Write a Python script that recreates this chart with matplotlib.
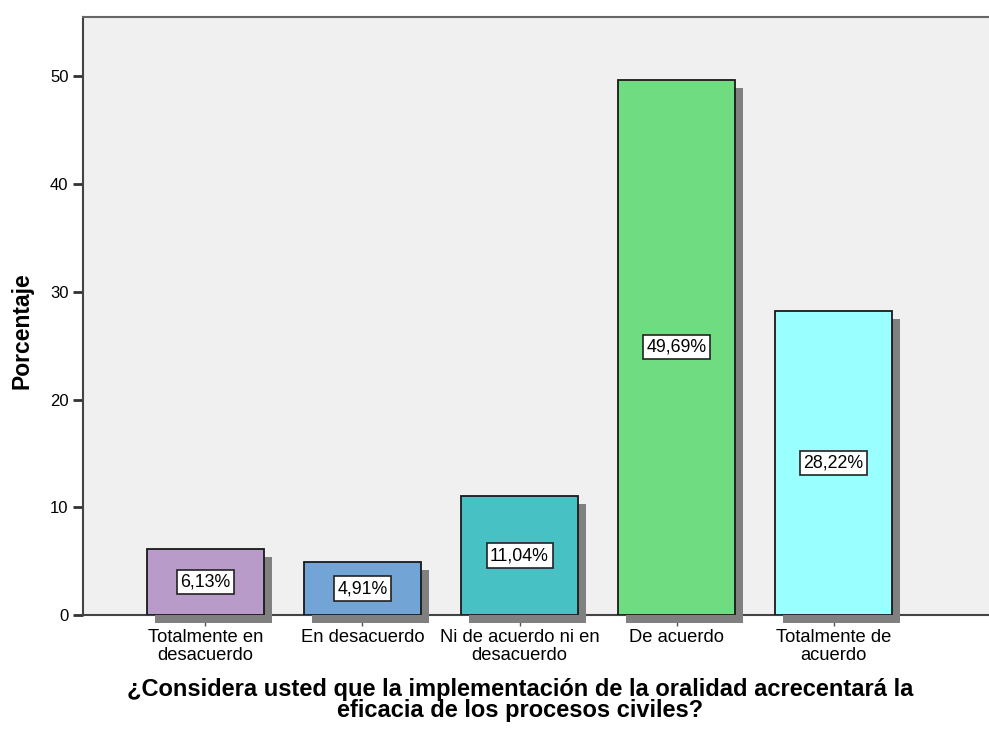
import matplotlib
matplotlib.use("Agg")
import matplotlib.pyplot as plt
import matplotlib.transforms as mtransforms

plt.rcParams['font.family'] = ['Liberation Sans', 'DejaVu Sans']

categories = ["Totalmente en\ndesacuerdo", "En desacuerdo", "Ni de acuerdo ni en\ndesacuerdo",
              "De acuerdo", "Totalmente de\nacuerdo"]
values = [6.13, 4.91, 11.04, 49.69, 28.22]
labels = ["6,13%", "4,91%", "11,04%", "49,69%", "28,22%"]
colors = ["#B89BC9", "#72A4D6", "#47C1C4", "#70DC82", "#99FFFF"]
yticks = [0, 10, 20, 30, 40, 50]

fig = plt.figure(figsize=(9.89, 7.31), dpi=100)
ax = fig.add_axes([83/989, 1-615/731, 1-83/989, (615-17)/731])
ax.set_facecolor("#F0F0F0")

x = list(range(len(values)))
width = 0.75

shadow_tr = ax.transData + mtransforms.ScaledTranslation(8/100, -8/100, fig.dpi_scale_trans)
sh = ax.bar(x, values, width=width, color="#808080", linewidth=0, zorder=3)
for p in sh:
    p.set_transform(shadow_tr)
    p.set_clip_on(False)
ax.bar(x, values, width=width, color=colors, edgecolor="#1a1a1a", linewidth=1.3, zorder=4)

for xi, v, lab in zip(x, values, labels):
    ax.text(xi, v/2, lab, ha="center", va="center", fontsize=12.8, zorder=5,
            bbox=dict(boxstyle="square,pad=0.2", fc="white", ec="#222222", lw=1.2))

ax.set_xlim(-0.78, 4.99)
ax.set_ylim(0, 55.5)
ax.set_yticks(yticks)
ax.set_yticklabels([str(t) for t in yticks], fontsize=12)
ax.set_xticks(x)
ax.set_xticklabels(categories, fontsize=13.2, linespacing=1.05)
ax.tick_params(axis='y', length=7.5, width=2, color="#333333", pad=3)
ax.tick_params(axis='x', length=8, width=1, color="#555555", pad=2)

for s in ["left", "bottom", "top"]:
    ax.spines[s].set_color("#444444")
    ax.spines[s].set_linewidth(1.5)
ax.spines["top"].set_color("#666666")
ax.spines["right"].set_visible(False)

fig.text(22/989, 1-331/731, "Porcentaje", rotation=90, ha="center", va="center",
         fontsize=16.5, fontweight="bold")
fig.text(520/989, 1-700/731, "¿Considera usted que la implementación de la oralidad acrecentará la\neficacia de los procesos civiles?",
         ha="center", va="center", fontsize=17, fontweight="bold", linespacing=0.9)

fig.savefig("out.png", dpi=100)
